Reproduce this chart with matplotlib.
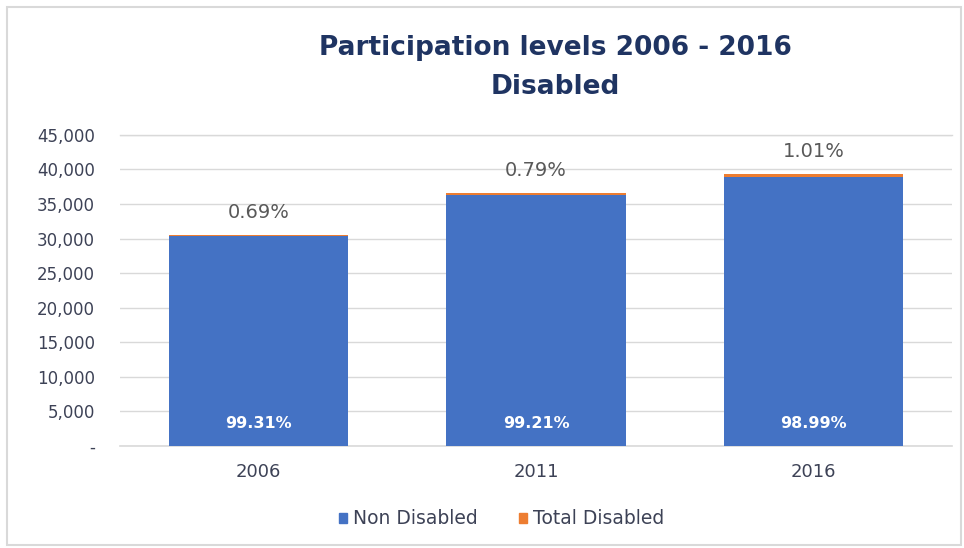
import matplotlib
matplotlib.use('Agg')
import matplotlib.pyplot as plt
from matplotlib.patches import Rectangle, Patch
import numpy as np

years = ['2006', '2011', '2016']
non_disabled = [30319, 36321, 38962]
total_disabled = [211, 289, 398]
y_ticks = [0, 5000, 10000, 15000, 20000, 25000, 30000, 35000, 40000, 45000]

blue = '#4472C4'
orange = '#ED7D31'
label_color = '#3d4256'

plt.rcParams['font.family'] = ['DejaVu Sans']

fig = plt.figure(figsize=(9.64, 5.48), dpi=100)
ax = fig.add_axes([0.1245, 0.186, 0.8631, 0.5678])

x = np.arange(len(years))
width = 0.646
ax.bar(x, non_disabled, width=width, color=blue, label='Non Disabled', zorder=3)
ax.bar(x, total_disabled, width=width, bottom=non_disabled, color=orange,
       label='Total Disabled', zorder=3)

totals = np.array(non_disabled) + np.array(total_disabled)
for i in range(len(years)):
    pct_dis = total_disabled[i] / totals[i] * 100
    pct_non = non_disabled[i] / totals[i] * 100
    ax.annotate(f'{pct_dis:.2f}%', (x[i], totals[i]), xytext=(0, 16),
                textcoords='offset points', ha='center', va='center',
                fontsize=14, color='#595959')
    ax.annotate(f'{pct_non:.2f}%', (x[i], 0), xytext=(0, 16.5),
                textcoords='offset points', ha='center', va='center',
                fontsize=11.5, fontweight='bold', color='white', zorder=4)

ax.set_xlim(-0.5, 2.5)
ax.set_ylim(0, 45000)
ax.set_xticks(x)
ax.set_xticklabels(years, fontsize=13, color=label_color)
ax.set_yticks(y_ticks)
ax.set_yticklabels(['-' if v == 0 else f'{v:,}' for v in y_ticks],
                   fontsize=12, color=label_color)
ax.tick_params(axis='y', length=0, pad=18)
ax.tick_params(axis='x', length=0, pad=12)
ax.grid(axis='y', color='#d9d9d9', linewidth=1, zorder=0)
ax.axhline(0, color='#d9d9d9', linewidth=1.2, zorder=2, clip_on=False)
ax.axhline(45000, color='#d9d9d9', linewidth=1, zorder=0, clip_on=False)
for s in ax.spines.values():
    s.set_visible(False)

fig.text(0.576, 1 - 48 / 548, 'Participation levels 2006 - 2016', ha='center',
         va='center', fontsize=19, fontweight='bold', color='#1f3462')
fig.text(0.576, 1 - 87 / 548, 'Disabled', ha='center', va='center',
         fontsize=19, fontweight='bold', color='#1f3462')

handles = [Patch(color=blue), Patch(color=orange)]
fig.legend(handles, ['Non Disabled', 'Total Disabled'], loc='center',
           bbox_to_anchor=(502 / 964, 1 - 519 / 548), ncol=2, frameon=False,
           fontsize=13.5, handlelength=0.4, handleheight=0.4,
           handletextpad=0.35, columnspacing=2.2, labelcolor=label_color)

# light border around the whole chart
fig.add_artist(Rectangle((7 / 964, 3 / 548), 954 / 964, 538 / 548,
                         transform=fig.transFigure, fill=False,
                         edgecolor='#d9d9d9', linewidth=1.5))

fig.savefig('out.png', dpi=100)
